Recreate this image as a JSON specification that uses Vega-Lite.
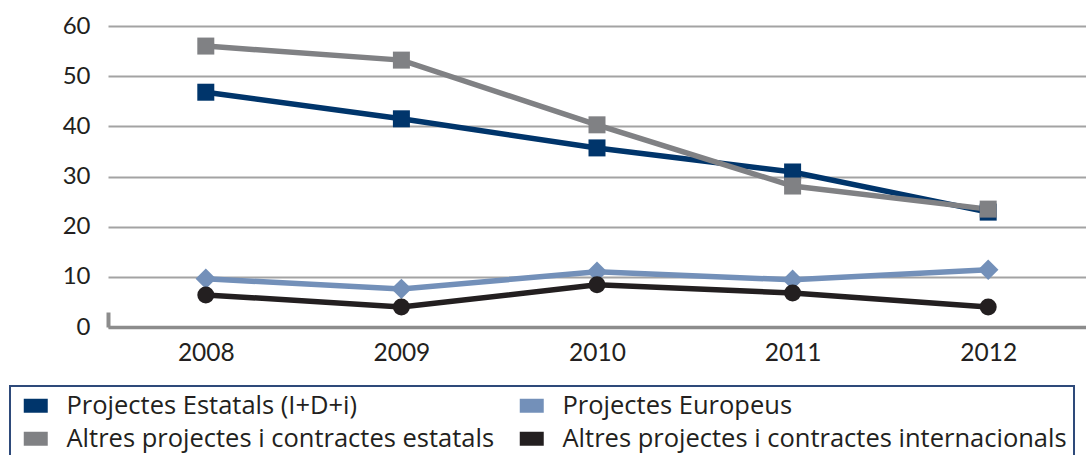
{
  "$schema": "https://vega.github.io/schema/vega-lite/v6.json",
  "width": 978,
  "height": 301,
  "autosize": {"type": "none"},
  "padding": {"left": 108, "top": 26, "right": 0, "bottom": 128},
  "background": "white",
  "config": {
    "view": {"stroke": null},
    "font": "Lato",
    "legend": {"strokeWidth": 2, "gridAlign": "none"}
  },
  "data": {
    "values": [
      {"series": "Projectes Estatals (I+D+i)", "year": 2008, "value": 46.8},
      {"series": "Projectes Estatals (I+D+i)", "year": 2009, "value": 41.5},
      {"series": "Projectes Estatals (I+D+i)", "year": 2010, "value": 35.7},
      {"series": "Projectes Estatals (I+D+i)", "year": 2011, "value": 30.9},
      {"series": "Projectes Estatals (I+D+i)", "year": 2012, "value": 22.9},
      {"series": "Projectes Europeus", "year": 2008, "value": 9.6},
      {"series": "Projectes Europeus", "year": 2009, "value": 7.6},
      {"series": "Projectes Europeus", "year": 2010, "value": 11.0},
      {"series": "Projectes Europeus", "year": 2011, "value": 9.4},
      {"series": "Projectes Europeus", "year": 2012, "value": 11.4},
      {"series": "Altres projectes i contractes estatals", "year": 2008, "value": 56.0},
      {"series": "Altres projectes i contractes estatals", "year": 2009, "value": 53.2},
      {"series": "Altres projectes i contractes estatals", "year": 2010, "value": 40.3},
      {"series": "Altres projectes i contractes estatals", "year": 2011, "value": 28.1},
      {"series": "Altres projectes i contractes estatals", "year": 2012, "value": 23.5},
      {"series": "Altres projectes i contractes internacionals", "year": 2008, "value": 6.4},
      {"series": "Altres projectes i contractes internacionals", "year": 2009, "value": 4.0},
      {"series": "Altres projectes i contractes internacionals", "year": 2010, "value": 8.4},
      {"series": "Altres projectes i contractes internacionals", "year": 2011, "value": 6.8},
      {"series": "Altres projectes i contractes internacionals", "year": 2012, "value": 4.0}
    ]
  },
  "resolve": {"axis": {"x": "independent"}},
  "encoding": {
    "y": {
      "field": "value",
      "type": "quantitative",
      "scale": {"domain": [0, 60], "nice": false},
      "axis": {
        "title": null,
        "values": [0, 10, 20, 30, 40, 50, 60],
        "domain": false,
        "ticks": false,
        "grid": true,
        "gridColor": "#a3a3a3",
        "gridWidth": 2,
        "labelFontSize": 24,
        "labelColor": "#231f20",
        "labelPadding": 18
      }
    }
  },
  "layer": [
    {
      "mark": {"type": "line", "strokeWidth": 5.5},
      "encoding": {
        "x": {
          "field": "year",
          "type": "quantitative",
          "scale": {"domain": [2007.5, 2012.5], "nice": false, "zero": false},
          "axis": {
            "title": null,
            "orient": "bottom",
            "values": [2008, 2009, 2010, 2011, 2012],
            "format": "d",
            "grid": false,
            "ticks": false,
            "domain": true,
            "domainColor": "#8c8c8c",
            "domainWidth": 3.5,
            "labelFontSize": 24.5,
            "labelColor": "#231f20",
            "labelPadding": 14
          }
        },
        "color": {
          "field": "series",
          "type": "nominal",
          "scale": {
            "domain": ["Projectes Estatals (I+D+i)", "Projectes Europeus", "Altres projectes i contractes estatals", "Altres projectes i contractes internacionals"],
            "range": ["#00356b", "#7390b9", "#808184", "#231f20"]
          },
          "legend": {
            "title": null,
            "orient": "none",
            "legendX": -98,
            "legendY": 360,
            "direction": "horizontal",
            "columns": 2,
            "gridAlign": "none",
            "symbolType": "M-1,-0.583H1V0.583H-1Z",
            "symbolSize": 576,
            "symbolStrokeWidth": 0,
            "symbolOffset": 6,
            "labelFont": "Open Sans",
            "labelFontSize": 25.5,
            "labelColor": "#231f20",
            "labelOffset": 18,
            "labelLimit": 800,
            "columnPadding": 18,
            "rowPadding": 6,
            "padding": 7,
            "strokeColor": "#2e4a7a",
            "encode": {
              "symbols": {
                "update": {
                  "fill": {"scale": "color", "field": "value"},
                  "fillOpacity": {"value": 1},
                  "strokeWidth": {"value": 0}
                }
              }
            }
          }
        }
      }
    },
    {
      "transform": [{"filter": {"field": "series", "oneOf": ["Projectes Estatals (I+D+i)", "Altres projectes i contractes estatals"]}}],
      "mark": {"type": "point", "shape": "square", "filled": true, "opacity": 1, "size": 289},
      "encoding": {
        "x": {
          "field": "year",
          "type": "quantitative",
          "axis": {
            "title": null,
            "orient": "bottom",
            "values": [2007.5],
            "labels": false,
            "domain": false,
            "grid": false,
            "ticks": true,
            "tickSize": -15,
            "tickWidth": 4,
            "tickColor": "#8c8c8c"
          }
        },
        "color": {"field": "series", "type": "nominal"}
      }
    },
    {
      "transform": [{"filter": {"field": "series", "equal": "Projectes Europeus"}}],
      "mark": {"type": "point", "shape": "diamond", "filled": true, "opacity": 1, "size": 420},
      "encoding": {
        "x": {"field": "year", "type": "quantitative", "axis": null},
        "color": {"field": "series", "type": "nominal"}
      }
    },
    {
      "transform": [{"filter": {"field": "series", "equal": "Altres projectes i contractes internacionals"}}],
      "mark": {"type": "point", "shape": "circle", "filled": true, "opacity": 1, "size": 289},
      "encoding": {
        "x": {"field": "year", "type": "quantitative", "axis": null},
        "color": {"field": "series", "type": "nominal"}
      }
    }
  ]
}
